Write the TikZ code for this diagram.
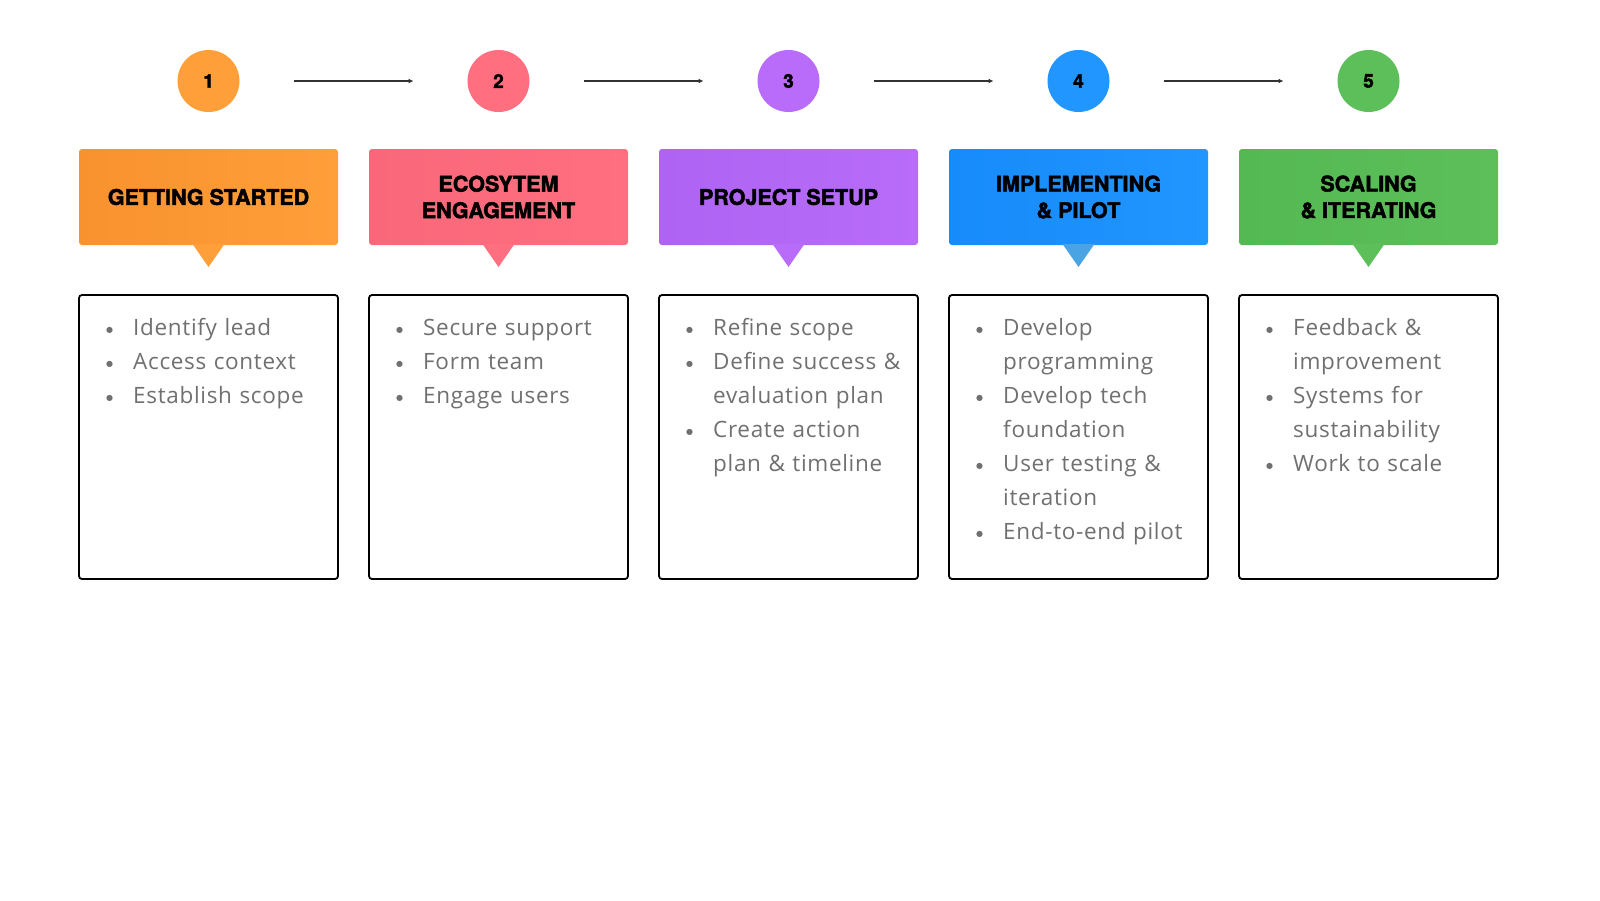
\documentclass[tikz,border=0pt]{standalone}
\usepackage{fontspec}
\setmainfont{Open Sans}[LetterSpace=3]
\newfontfamily\headfont{TeX Gyre Heros}[BoldFeatures={FakeBold=2.2}]
\newfontfamily\symfont{DejaVu Sans}
\usetikzlibrary{positioning}
\usetikzlibrary{arrows.meta}

\definecolor{cOrange}{HTML}{FF9F3A}
\definecolor{cOrangeD}{HTML}{F8922E}
\definecolor{cPink}{HTML}{FF6F80}
\definecolor{cPinkD}{HTML}{F9687A}
\definecolor{cPurple}{HTML}{B86CF9}
\definecolor{cPurpleD}{HTML}{AE63F2}
\definecolor{cBlue}{HTML}{2196FF}
\definecolor{cBlueD}{HTML}{168BFA}
\definecolor{cBlueT}{HTML}{4AA3E2}
\definecolor{cGreen}{HTML}{5CBF5A}
\definecolor{cGreenD}{HTML}{54B853}
\definecolor{txtgray}{HTML}{707070}

% one bullet line of a list box
\newcommand{\bitem}[1]{\noindent\hangindent=28pt\hangafter=1\makebox[28pt][l]{\hspace{1pt}\raisebox{3pt}{\symfont\fontsize{8}{8}\selectfont ●}}#1\par}

\begin{document}
\begin{tikzpicture}[
        x=1pt, y=-1pt,
        numdot/.style = {
            circle,
            fill = #1,
            minimum size = 62pt,
            inner sep = 0pt,
            outer sep = 0pt,
            font = \headfont\bfseries\fontsize{19}{19}\selectfont
        },
        headbox/.style = {
            rounded corners = 3pt,
            minimum width = 259pt,
            minimum height = 96pt,
            inner sep = 0pt,
            outer sep = 0pt,
            align = center,
            font = \headfont\bfseries\fontsize{21.5}{26.5}\selectfont
        },
        listbox/.style = {
            draw = black,
            line width = 1.8pt,
            rounded corners = 3pt,
            fill = white,
            minimum width = 259pt,
            minimum height = 284pt,
            inner sep = 0pt,
            outer sep = 0pt
        },
        listtext/.style = {
            anchor = north west,
            inner sep = 0pt,
            text width = 230pt,
            text = txtgray,
            font = \fontsize{22.5}{34}\selectfont
        },
        flow/.style = {
            draw = black!80,
            line width = 1.2pt,
            shorten <= 54pt,
            shorten >= 54pt,
            -{Latex[length=5pt,width=5pt]}
        },
        node distance = {228pt}
            ]
            \useasboundingbox (0,0) rectangle (1600,900);

            % step numbers
            \node[numdot=cOrange] (c1) at (208.5,81) {1};
            \node[numdot=cPink, right=of c1] (c2) {2};
            \node[numdot=cPurple, right=of c2] (c3) {3};
            \node[numdot=cBlue, right=of c3] (c4) {4};
            \node[numdot=cGreen, right=of c4] (c5) {5};

            \draw[flow] (c1) -- (c2);
            \draw[flow] (c2) -- (c3);
            \draw[flow] (c3) -- (c4);
            \draw[flow] (c4) -- (c5);

            % headers
            \node[headbox, left color=cOrangeD, right color=cOrange, below=37pt of c1] (h1) {GETTING STARTED};
            \node[headbox, left color=cPinkD, right color=cPink, below=37pt of c2] (h2) {ECOSYTEM\\ENGAGEMENT};
            \node[headbox, left color=cPurpleD, right color=cPurple, below=37pt of c3] (h3) {PROJECT SETUP};
            \node[headbox, left color=cBlueD, right color=cBlue, below=37pt of c4] (h4) {IMPLEMENTING\\\&\ PILOT};
            \node[headbox, left color=cGreenD, right color=cGreen, below=37pt of c5] (h5) {SCALING\\\&\ ITERATING};

            \fill[cOrange] ([xshift=-16pt,yshift=1pt]h1.south) -- ([xshift=16pt,yshift=1pt]h1.south) -- ([yshift=-22pt]h1.south) -- cycle;
            \fill[cPink] ([xshift=-16pt,yshift=1pt]h2.south) -- ([xshift=16pt,yshift=1pt]h2.south) -- ([yshift=-22pt]h2.south) -- cycle;
            \fill[cPurple] ([xshift=-16pt,yshift=1pt]h3.south) -- ([xshift=16pt,yshift=1pt]h3.south) -- ([yshift=-22pt]h3.south) -- cycle;
            \fill[cBlueT] ([xshift=-16pt,yshift=1pt]h4.south) -- ([xshift=16pt,yshift=1pt]h4.south) -- ([yshift=-22pt]h4.south) -- cycle;
            \fill[cGreen] ([xshift=-16pt,yshift=1pt]h5.south) -- ([xshift=16pt,yshift=1pt]h5.south) -- ([yshift=-22pt]h5.south) -- cycle;

            % list boxes
            \node[listbox, below=50pt of h1] (b1) {};
            \node[listbox, below=50pt of h2] (b2) {};
            \node[listbox, below=50pt of h3] (b3) {};
            \node[listbox, below=50pt of h4] (b4) {};
            \node[listbox, below=50pt of h5] (b5) {};

            \node[listtext] (t1) at ([xshift=26pt,yshift=-16pt]b1.north west) {\rule{0pt}{24pt}%
                \bitem{Identify lead}\bitem{Access context}\bitem{Establish scope}};
            \node[listtext] (t2) at ([xshift=26pt,yshift=-16pt]b2.north west) {\rule{0pt}{24pt}%
                \bitem{Secure support}\bitem{Form team}\bitem{Engage users}};
            \node[listtext] (t3) at ([xshift=26pt,yshift=-16pt]b3.north west) {\rule{0pt}{24pt}%
                \bitem{Refine scope}\bitem{Define success \&\newline evaluation plan}\bitem{Create action\newline plan \& timeline}};
            \node[listtext] (t4) at ([xshift=26pt,yshift=-16pt]b4.north west) {\rule{0pt}{24pt}%
                \bitem{Develop\newline programming}\bitem{Develop tech\newline foundation}\bitem{User testing \&\newline iteration}\bitem{End-to-end pilot}};
            \node[listtext] (t5) at ([xshift=26pt,yshift=-16pt]b5.north west) {\rule{0pt}{24pt}%
                \bitem{Feedback \&\newline improvement}\bitem{Systems for\newline sustainability}\bitem{Work to scale}};

        \end{tikzpicture}
\end{document}
